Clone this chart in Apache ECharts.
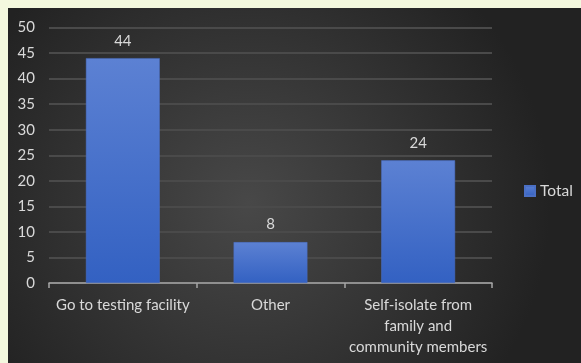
<!DOCTYPE html>
<html>
<head>
<meta charset="utf-8">
<script src="https://cdn.jsdelivr.net/npm/echarts@6/dist/echarts.min.js"></script>
<style>
  html, body { margin: 0; padding: 0; background: #f3f8de; }
  #chart { width: 581px; height: 363px; }
</style>
</head>
<body>
<div id="chart"></div>
<script>
// Responses: what people would do
const categories = ['Go to testing facility', 'Other', 'Self-isolate from\nfamily and\ncommunity members'];
const totals = [44, 8, 24];
const seriesName = 'Total';
const yMin = 0, yMax = 50, yStep = 5;

const textColor = '#d9d9d9';
const fontFamily = 'Lato, "Open Sans", sans-serif';

const chart = echarts.init(document.getElementById('chart'));
chart.setOption({
  backgroundColor: '#f3f8de',
  animation: false,
  graphic: [{
    type: 'rect',
    left: 8, top: 8, z: -10, silent: true,
    shape: { width: 573, height: 355 },
    style: {
      fill: {
        type: 'radial', x: 0.42, y: 0.55, r: 0.85,
        colorStops: [
          { offset: 0, color: '#484848' },
          { offset: 1, color: '#222222' }
        ]
      }
    }
  }],
  grid: { left: 49, right: 89, top: 27.5, bottom: 80, containLabel: false },
  legend: {
    data: [seriesName],
    orient: 'vertical',
    left: 519, top: 178,
    itemWidth: 10, itemHeight: 10, itemGap: 6,
    icon: 'rect',
    textStyle: { color: textColor, fontSize: 15.5, fontFamily: fontFamily, padding: [0, 0, 0, 0] }
  },
  xAxis: {
    type: 'category',
    data: categories,
    axisLine: { lineStyle: { color: '#a6a6a6', width: 1.5 } },
    axisTick: { show: true, length: 5, lineStyle: { color: '#a6a6a6', width: 1.5 } },
    axisLabel: {
      color: textColor, fontSize: 15, fontFamily: fontFamily,
      lineHeight: 21, margin: 12, interval: 0
    },
    splitLine: { show: false }
  },
  yAxis: {
    type: 'value',
    min: yMin, max: yMax, interval: yStep,
    axisLine: { show: false },
    axisTick: { show: false },
    axisLabel: { color: textColor, fontSize: 15, fontFamily: fontFamily, margin: 14 },
    splitLine: { lineStyle: { color: '#4a4a4a', width: 2 } }
  },
  series: [{
    name: seriesName,
    type: 'bar',
    data: totals,
    barWidth: '50%',
    itemStyle: {
      color: {
        type: 'linear', x: 0, y: 0, x2: 0, y2: 1,
        colorStops: [
          { offset: 0, color: '#5c81d3' },
          { offset: 1, color: '#3361c2' }
        ]
      },
      borderColor: '#4a6fc4', borderWidth: 0.5
    },
    label: {
      show: true, position: 'top', distance: 10,
      color: textColor, fontSize: 15, fontFamily: fontFamily
    }
  }]
});
</script>
</body>
</html>
